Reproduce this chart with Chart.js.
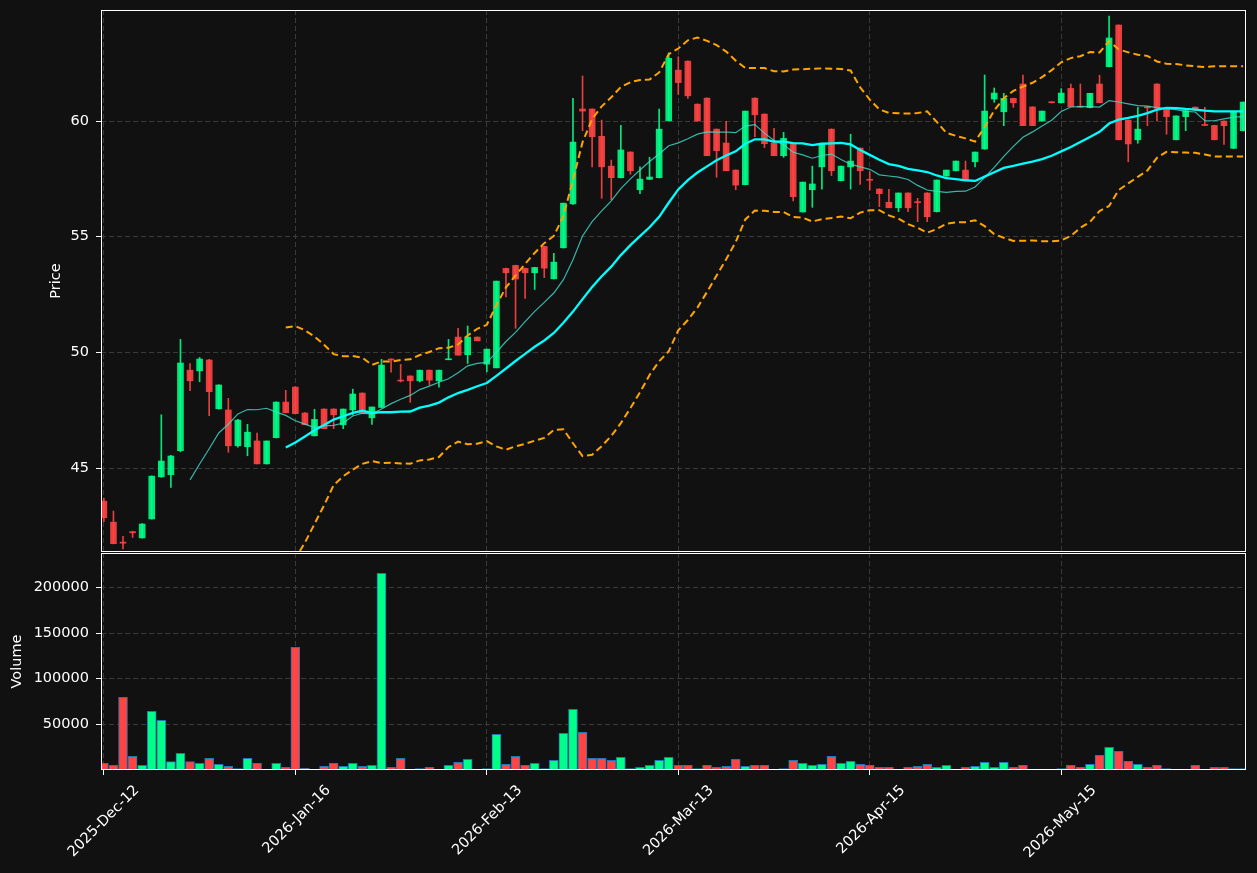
<!DOCTYPE html>
<html lang="en">
<head>
<meta charset="UTF-8">
<title>Price and Volume</title>
<script src="https://cdn.jsdelivr.net/npm/chart.js"></script>
<style>
    html, body { margin: 0; padding: 0; background: #111111; }
    .wrap { position: relative; width: 1257px; height: 873px; }
    .wrap canvas { position: absolute; left: 0; top: 0; }
</style>
</head>
<body>
<div class="wrap">
    <canvas id="priceChart" width="1257" height="873"></canvas>
    <canvas id="volumeChart" width="1257" height="873"></canvas>
</div>
<script>
// bar index of each date tick and its label
const tickIdx = [0, 20, 40, 60, 80, 100];
const tickLabels = ['2025-Dec-12', '2026-Jan-16', '2026-Feb-13', '2026-Mar-13', '2026-Apr-15', '2026-May-15'];
const priceTicks = [45, 50, 55, 60];
const volumeTicks = [50000, 100000, 150000, 200000];

const opens = [
    43.57, 42.66, 41.80, 42.25, 41.98, 42.80, 44.62, 44.71, 45.75, 49.23,
    49.20, 49.67, 47.56, 47.51, 45.96, 45.92, 46.17, 45.18, 46.31, 47.85,
    48.50, 47.38, 46.39, 47.55, 47.55, 46.87, 47.51, 48.24, 47.17, 47.62,
    49.71, 48.80, 48.98, 48.77, 49.23, 48.77, 49.68, 50.66, 49.90, 50.66,
    49.49, 49.33, 53.63, 53.76, 53.63, 53.44, 54.58, 53.18, 54.52, 56.42,
    60.52, 60.52, 59.34, 58.05, 57.55, 58.66, 57.03, 57.48, 57.55, 60.01,
    62.20, 62.59, 60.73, 60.99, 59.65, 59.05, 57.88, 57.25, 60.99, 60.30,
    59.06, 58.50, 59.05, 56.07, 57.03, 58.02, 59.65, 57.42, 58.02, 58.83,
    57.48, 57.06, 56.49, 56.25, 56.89, 56.50, 56.89, 56.08, 57.62, 57.85,
    57.88, 58.24, 58.79, 60.95, 60.40, 60.98, 61.60, 60.61, 60.00, 60.83,
    60.79, 61.41, 60.64, 60.58, 61.60, 62.35, 64.15, 60.04, 59.19, 60.62,
    61.60, 60.55, 59.19, 60.19, 60.60, 59.85, 59.81, 60.00, 58.82, 59.58
];
const highs = [
    43.70, 43.14, 42.05, 42.27, 42.60, 44.66, 47.30, 45.55, 50.56, 49.52,
    49.78, 49.70, 48.60, 48.01, 47.10, 46.89, 46.51, 46.17, 47.86, 48.36,
    48.52, 47.40, 47.54, 47.56, 47.56, 47.55, 48.41, 48.25, 47.64, 49.70,
    49.72, 49.48, 48.99, 49.23, 49.24, 49.23, 50.56, 51.04, 51.14, 50.67,
    50.14, 53.08, 53.64, 53.77, 53.64, 53.68, 54.59, 54.28, 56.45, 60.98,
    61.95, 60.53, 60.04, 58.31, 59.81, 58.67, 58.02, 58.43, 60.52, 62.95,
    62.78, 62.60, 60.74, 61.00, 59.66, 59.99, 57.89, 60.43, 61.00, 60.31,
    59.68, 59.51, 59.06, 57.36, 58.05, 59.04, 59.66, 58.05, 59.43, 58.84,
    57.81, 57.07, 57.05, 56.89, 56.90, 56.66, 56.90, 57.45, 57.88, 58.27,
    58.27, 58.66, 61.99, 61.43, 61.20, 60.99, 61.99, 60.62, 60.43, 60.84,
    61.40, 61.60, 61.60, 61.20, 61.98, 64.54, 64.16, 60.05, 60.59, 60.63,
    61.61, 60.56, 60.22, 60.45, 60.61, 60.59, 59.82, 60.01, 60.40, 60.82
];
const lows = [
    42.68, 41.72, 41.50, 42.00, 41.97, 42.79, 44.60, 44.16, 45.70, 48.34,
    48.73, 47.26, 47.55, 45.68, 45.90, 45.53, 45.18, 45.17, 46.30, 47.39,
    47.35, 46.87, 46.39, 46.70, 46.70, 46.70, 47.29, 47.35, 46.89, 47.60,
    49.14, 48.72, 47.84, 48.72, 48.59, 48.50, 49.68, 49.88, 49.52, 50.50,
    49.16, 49.33, 52.40, 51.04, 52.33, 52.72, 53.23, 53.17, 54.51, 56.40,
    59.58, 58.02, 56.66, 56.60, 57.54, 57.70, 56.86, 57.47, 57.54, 60.00,
    61.15, 60.98, 60.00, 58.50, 57.57, 57.85, 57.03, 57.24, 59.32, 58.85,
    58.50, 58.43, 56.55, 56.06, 56.27, 57.05, 57.64, 57.41, 57.06, 57.26,
    57.02, 56.30, 56.25, 56.08, 56.08, 55.65, 55.65, 56.07, 57.61, 57.84,
    57.49, 58.02, 58.78, 60.81, 59.80, 60.59, 59.80, 59.80, 59.99, 60.78,
    60.78, 60.62, 60.59, 60.57, 60.79, 62.34, 59.19, 58.24, 59.04, 59.80,
    60.00, 59.43, 59.18, 59.58, 60.47, 59.80, 59.19, 58.99, 58.81, 59.57
];
const closes = [
    42.85, 41.73, 41.75, 42.20, 42.58, 44.65, 45.30, 45.52, 49.54, 48.77,
    49.71, 48.30, 48.59, 45.96, 47.07, 46.55, 45.18, 46.17, 47.85, 47.39,
    47.35, 46.87, 47.10, 46.70, 47.30, 47.55, 48.20, 47.35, 47.64, 49.45,
    49.67, 48.76, 48.77, 49.23, 48.80, 49.23, 49.72, 49.88, 50.66, 50.50,
    50.14, 53.08, 53.44, 53.17, 53.44, 53.67, 53.64, 53.90, 56.45, 59.09,
    60.43, 59.32, 58.02, 57.55, 58.75, 57.85, 57.49, 57.58, 59.65, 62.71,
    61.66, 61.09, 60.00, 58.50, 58.72, 57.85, 57.23, 60.43, 60.27, 59.02,
    58.50, 59.25, 56.73, 57.36, 57.28, 59.04, 57.85, 58.05, 58.27, 57.85,
    57.44, 56.86, 56.25, 56.89, 56.25, 56.47, 55.86, 57.45, 57.88, 58.27,
    57.49, 58.66, 60.43, 61.21, 60.98, 60.79, 59.80, 59.80, 60.43, 60.79,
    61.21, 60.62, 60.60, 61.20, 60.79, 63.59, 59.19, 59.01, 59.65, 60.57,
    60.55, 60.19, 60.22, 60.45, 60.48, 59.81, 59.19, 59.80, 60.40, 60.82
];
const volumes = [
    7300, 5100, 79600, 15000, 5100, 64300, 54400, 9100, 18300, 9100,
    7300, 12800, 6200, 4000, 1500, 12800, 7300, 300, 7300, 3000,
    134400, 1900, 800, 4000, 7300, 4000, 7300, 4000, 5100, 215400,
    3000, 12800, 700, 1500, 3000, 300, 5100, 8400, 11700, 300,
    1500, 39100, 6200, 15000, 5100, 7300, 1500, 10600, 40200, 66500,
    41300, 12800, 12800, 10600, 13900, 1500, 3000, 5100, 10600, 13900,
    5100, 5100, 1500, 5100, 3000, 4000, 11700, 4000, 5100, 5100,
    800, 1500, 10600, 7300, 5100, 6200, 15000, 7300, 9500, 6200,
    5100, 3000, 3000, 800, 3000, 4000, 6200, 3000, 5100, 500,
    3000, 4000, 8400, 3000, 8400, 3000, 5100, 500, 300, 200,
    1500, 5100, 3000, 6200, 16100, 24900, 20500, 9500, 6200, 3000,
    5100, 1500, 300, 300, 5100, 300, 3000, 3000, 1500, 1500
];

Chart.defaults.font.family = "'DejaVu Sans', sans-serif";
Chart.defaults.font.size = 14.5;
Chart.defaults.color = '#ffffff';

const gridColor = '#3a3a3a';
const isUp = closes.map((c, i) => c >= opens[i]);
const candleColors = isUp.map(u => u ? 'rgba(0,255,136,0.9)' : 'rgba(255,68,68,0.9)');
const volumeColors = isUp.map(u => u ? '#00ff88' : '#ff4444');

// moving averages and bollinger bands from the closes
function sma(n) {
    return closes.map((_, i) => {
        if (i < n - 1) return null;
        let s = 0;
        for (let k = i - n + 1; k <= i; k++) s += closes[k];
        return s / n;
    });
}
const ma10 = sma(10);
const ma20 = sma(20);
const sd20 = closes.map((_, i) => {
    if (i < 19) return null;
    let s = 0;
    for (let k = i - 19; k <= i; k++) s += (closes[k] - ma20[i]) ** 2;
    return Math.sqrt(s / 19);
});
const bbUpper = ma20.map((m, i) => m === null ? null : m + 2 * sd20[i]);
const bbLower = ma20.map((m, i) => m === null ? null : m - 2 * sd20[i]);
const pts = arr => arr.map((v, i) => ({ x: i, y: v })).filter(p => p.y !== null);

// white box around each panel
const framePlugin = {
    id: 'frame',
    afterDraw(chart) {
        const { ctx, chartArea: a } = chart;
        ctx.save();
        ctx.strokeStyle = '#ffffff';
        ctx.lineWidth = 1;
        ctx.strokeRect(a.left + 0.5, a.top + 0.5, a.right - a.left - 1, a.bottom - a.top - 1);
        ctx.restore();
    }
};

// keep label overflow from pushing the plot area around
function noPad(s) {
    s.paddingTop = 0;
    s.paddingBottom = 0;
    s.paddingLeft = 0;
    s.paddingRight = 0;
}

function xScale(showLabels) {
    return {
        type: 'linear',
        min: -0.3,
        max: 119.3,
        offset: false,
        afterBuildTicks: s => { s.ticks = tickIdx.map(v => ({ value: v })); },
        afterFit: s => { s.height = showLabels ? 103 : 0; noPad(s); },
        grid: { color: gridColor, offset: false, drawTicks: showLabels, tickColor: '#ffffff', tickLength: 5 },
        border: { display: false, dash: [5, 3] },
        ticks: {
            display: showLabels,
            autoSkip: false,
            minRotation: 45,
            maxRotation: 45,
            padding: 7,
            labelOffset: 33,
            color: '#ffffff',
            callback: v => tickLabels[tickIdx.indexOf(v)]
        }
    };
}

const common = {
    responsive: false,
    animation: false,
    events: [],
    plugins: { legend: { display: false }, tooltip: { enabled: false } }
};

new Chart(document.getElementById('priceChart'), {
    type: 'bar',
    data: {
        datasets: [
            { type: 'line', label: 'MA10', data: pts(ma10), borderColor: 'rgba(64,224,208,0.8)', borderWidth: 1.2, pointRadius: 0, order: 1 },
            { type: 'line', label: 'MA20', data: pts(ma20), borderColor: '#00ffff', borderWidth: 2.3, pointRadius: 0, order: 0 },
            { type: 'line', label: 'BB upper', data: pts(bbUpper), borderColor: '#ffa500', borderWidth: 2, borderDash: [7, 4], pointRadius: 0, order: 0 },
            { type: 'line', label: 'BB lower', data: pts(bbLower), borderColor: '#ffa500', borderWidth: 2, borderDash: [7, 4], pointRadius: 0, order: 0 },
            {
                label: 'Body',
                data: closes.map((c, i) => ({ x: i, y: [opens[i], c] })),
                backgroundColor: candleColors,
                barThickness: 6,
                minBarLength: 1,
                grouped: false,
                order: 2
            },
            {
                label: 'Wick',
                data: closes.map((c, i) => ({ x: i, y: [lows[i], highs[i]] })),
                backgroundColor: candleColors,
                barThickness: 1,
                grouped: false,
                order: 3
            }
        ]
    },
    options: {
        ...common,
        layout: { padding: { left: 44, top: 10, right: 11, bottom: 321 } },
        scales: {
            x: xScale(false),
            y: {
                min: 41.37,
                max: 64.8,
                afterBuildTicks: s => { s.ticks = priceTicks.map(v => ({ value: v })); },
                afterFit: s => { s.width = 57; noPad(s); },
                grid: { color: gridColor, tickColor: '#ffffff', tickLength: 5 },
                border: { display: false, dash: [5, 3] },
                ticks: { color: '#ffffff', padding: 7 },
                title: { display: true, text: 'Price', color: '#ffffff' }
            }
        }
    },
    plugins: [framePlugin]
});

new Chart(document.getElementById('volumeChart'), {
    type: 'bar',
    data: {
        datasets: [{
            label: 'Volume',
            data: volumes.map((v, i) => ({ x: i, y: v })),
            backgroundColor: volumeColors,
            borderColor: '#1f77b4',
            borderWidth: 1,
            barThickness: 9,
            grouped: false
        }]
    },
    options: {
        ...common,
        layout: { padding: { left: 5, top: 553, right: 11, bottom: 0 } },
        scales: {
            x: xScale(true),
            y: {
                min: 0,
                max: 237600,
                afterBuildTicks: s => { s.ticks = volumeTicks.map(v => ({ value: v })); },
                afterFit: s => { s.width = 96; noPad(s); },
                grid: { color: gridColor, tickColor: '#ffffff', tickLength: 5 },
                border: { display: false, dash: [5, 3] },
                ticks: { color: '#ffffff', padding: 7, callback: v => String(v) },
                title: { display: true, text: 'Volume', color: '#ffffff' }
            }
        }
    },
    plugins: [framePlugin]
});
</script>
</body>
</html>
